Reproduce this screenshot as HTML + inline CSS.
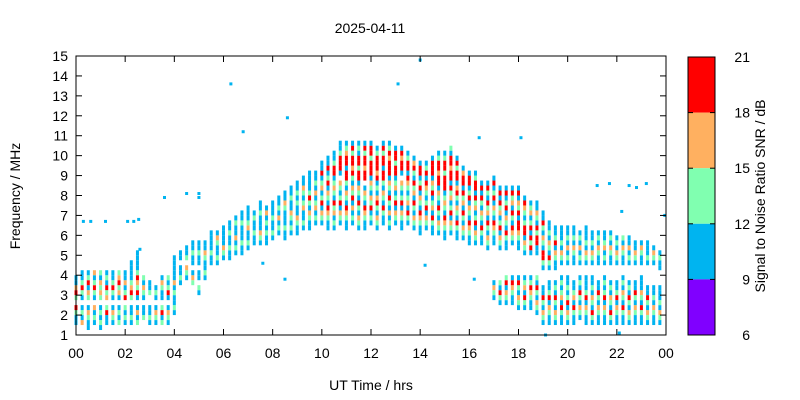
<!DOCTYPE html>
<html><head><meta charset="utf-8"><style>
body{margin:0;background:#fff;width:800px;height:400px;overflow:hidden}
svg{display:block;font-family:"Liberation Sans",sans-serif}
</style></head><body>
<svg id="chart" width="800" height="400" viewBox="0 0 800 400">
<rect width="800" height="400" fill="#fff"/>
<text x="370" y="33" font-size="14" text-anchor="middle">2025-04-11</text>
<g id="marks"></g>
<g id="axes"></g>
<text x="371" y="390" font-size="14" text-anchor="middle">UT Time / hrs</text>
<text transform="translate(20,196) rotate(-90)" font-size="14" text-anchor="middle">Frequency / MHz</text>
<g id="cbar"></g>
<text transform="translate(765,196) rotate(-90)" font-size="14" text-anchor="middle">Signal to Noise Ratio SNR / dB</text>
</svg>
<script>
const cols = [
"..bbgr.grobb","..obgb.bgrgbb",".bbgob.gobrgb","..bgbo.bgrgbo",".bgbgb.gogobg","..bbrg.ogrbgb","..bgob.bgrgbb","..gbgb.bogrog",
"..bgbg.rgbobb","..bgbb.grogbbbb","..gbob.brgorgbbbb","...gbb.bgobg","..bgbb..gbb","..bgob.bgb","..gbrg.bbgob","..bgob.brgbg",
"....bgbbgbobbbbb","..........bgbb.bb","...........bgo.gbb","..........gob.bbgbb","........bg.bb.bbgbb","...........bgbbgobb","..............bbgbbbb","..............bgbbgob",
"...............bgobbbb","...............bbgbbgbb","................bgbobbgb","................bbgbbbgbb",".................bgbbogbbb","..................bbgbbgb","..................bgobbbgbb","..................bbgbgbob",
"...................bgbbgbbb","....................bgbobgbb","...................bbgbbbgobb","....................bgbgobbgbb","....................bbgobbgbgbb",".....................bgbbogbgobb",".....................bbgobgrgbbbb","......................bgbogbobgbb",
"......................bgobrgbogbrbb",".....................bbgorbgobrgbrbb",".....................bgbogrbgogbrrgbb","......................bgobrgbgo.brrrgbb",".....................bbgorbgobgrrbrrogb","......................bgbobrgobgrorrgrb",".....................bgobgrbgobrrgrrbgb",".....................bbgorbgob.rrorrgrb",
"......................bgbrgobgobrrrgrrb",".....................bgobgrobgbrorrrgb","......................bbgrbgobgrrbrrgrb",".....................bgbobgrbgobrrrorgb","......................bgobrgbogbrrgrrb",".....................bbgobrgbgo.brrorb","......................bgrbogbgorbrrgb",".....................bgobgrbogrbgrob",
"....................bbgorbgobrgbrrb",".....................bgobrgbgorbrgb","....................bbgrbogbrgobrrrb","....................bgobgrbgobrrorrgb","...................bbgorbgogbrrrgrrgb","....................bgobrgbogrbrrorrbg","...................bbgrbgobgrobrrgrb","...................bgobgrbogrbrrob",
"..................bbgorbgobrgbrrb","..................bgobrgbogrbrrgb","..................bbgrbgobgrbrb",".................bgobgrbogrbgrb",".......bgob.......bbgorbgobrgbrb","......bgrbg......bgobrgbogrbrb","......bgobrg.....bbgrbgobrgbrb","......bbgorb......bgorbgrbogrb",
".....bgobgrb.....bbgorrbrgobrb",".....bgrbogb....bgobrrgbgorb",".....bbgorgb....brgrbrgbogb","....bgobgrbg....bbrrgrbgobb",
"..bgobgrbb...bgrrbgobgrbb","..bbgobrgbb..bgrbgobgbb","..bgobgrbgb..bbgobrgbb","..bbgrbogbgb..bgobgbbb",
"..bgobrgbgbb..bgbobgbb","..bbgrbogbb...bbgobgbb","...bgobgrbgb..bgbobgb","..bbgobrgbbb..bgobgbbb",
"..bgrbgobgbb..bgobgbb","..bbgobgrbb...bbgobgb","..bbgobrgbgb..bgbogbb","..bgrbgobgb...bbgobgb",
"..bbgobrgbb...bgobgb","..bbgrbgobgb..bbgobg","..bgobgrbgb...bgbobb","..bbgobgrbb...bgobb",
"..bbgrbgobbb..bbgob","..bgobgrbb....bgbbb","..bbgobgbb....bgob","..bgobgbbb...bbgb"
];
const outT = [0.3,0.6,1.2,2.1,2.35,2.55,2.6,3.6,4.5,5.0,5.0,6.3,6.8,7.6,8.5,8.6,13.1,14.0,14.2,16.4,18.1,16.2,21.2,21.7,22.5,22.2,22.8,23.2,23.95,19.1,22.1];
const outF = [6.7,6.7,6.7,6.7,6.7,6.8,5.3,7.9,8.1,8.1,7.9,13.6,11.2,4.6,3.8,11.9,13.6,14.8,4.5,10.9,10.9,3.8,8.5,8.6,8.5,7.2,8.4,8.6,7.0,1.0,1.1];
const xTicks = ["00","02","04","06","08","10","12","14","16","18","20","22","00"];
const yTicks = [1,2,3,4,5,6,7,8,9,10,11,12,13,14,15];
const cbTicks = [21,18,15,12,9,6];
const cbColors = ["#ff0000","#ffb060","#80ffb0","#00b4f0","#8000ff"];
const colorOf = {b:"#00b4f0",g:"#80ffb0",o:"#ffb060",r:"#ff0000",p:"#8000ff"};

const NS="http://www.w3.org/2000/svg";
const X0=76,X1=666,Y0=335,Y1=56;
const xs=h=>X0+h/24*(X1-X0);
const ys=f=>Y0-(f-1)/14*(Y0-Y1);
function mk(tag,attrs,parent){const e=document.createElementNS(NS,tag);for(const k in attrs)e.setAttribute(k,attrs[k]);parent.appendChild(e);return e;}
const marks=document.getElementById('marks');
cols.forEach((s,i)=>{
  const t=i*0.25;
  for(let k=0;k<s.length;k++){
    const c=s[k]; if(c==='.')continue;
    const f=1+k*0.25;
    const r=mk('rect',{x:xs(t)-1.5,y:ys(f+0.25),width:3,height:ys(f)-ys(f+0.25),fill:colorOf[c]},marks);
    
    
  }
});
outT.forEach((t,i)=>{
  const r=mk('rect',{x:xs(t)-1.5,y:ys(outF[i])-1.5,width:3,height:3,fill:colorOf.b},marks);
  
  
});
const ax=document.getElementById('axes');
mk('rect',{x:X0,y:Y1,width:X1-X0,height:Y0-Y1,fill:'none',stroke:'#000','stroke-width':1},ax);
xTicks.forEach((l,i)=>{
  const x=xs(i*2);
  mk('line',{x1:x,x2:x,y1:Y0,y2:Y0-6,stroke:'#000'},ax);
  mk('line',{x1:x,x2:x,y1:Y1,y2:Y1+6,stroke:'#000'},ax);
  const tx=mk('text',{x:x,y:Y0+23,'font-size':14,'text-anchor':'middle'},ax);
  tx.textContent=l;
  
  
});
yTicks.forEach(v=>{
  const y=ys(v);
  mk('line',{x1:X0,x2:X0+6,y1:y,y2:y,stroke:'#000'},ax);
  mk('line',{x1:X1,x2:X1-6,y1:y,y2:y,stroke:'#000'},ax);
  const tx=mk('text',{x:X0-8,y:y+5,'font-size':14,'text-anchor':'end'},ax);
  tx.textContent=v;
  
  
});
const cb=document.getElementById('cbar');
const CY0=335,CY1=57,CX=688,CW=27;
const cy=v=>CY0-(v-6)/15*(CY0-CY1);
cbColors.forEach((c,i)=>{
  const r=mk('rect',{x:CX,y:cy(cbTicks[i]),width:CW,height:cy(cbTicks[i+1])-cy(cbTicks[i]),fill:c},cb);
  
  
});
mk('rect',{x:CX,y:CY1,width:CW,height:CY0-CY1,fill:'none',stroke:'#000'},cb);
cbTicks.forEach(v=>{
  const y=cy(v);
  mk('line',{x1:CX,x2:CX+5,y1:y,y2:y,stroke:'#000'},cb);
  mk('line',{x1:CX+CW,x2:CX+CW-5,y1:y,y2:y,stroke:'#000'},cb);
  const tx=mk('text',{x:750,y:y+5,'font-size':14,'text-anchor':'end'},cb);
  tx.textContent=v;
  
  
});
</script>
</body></html>
